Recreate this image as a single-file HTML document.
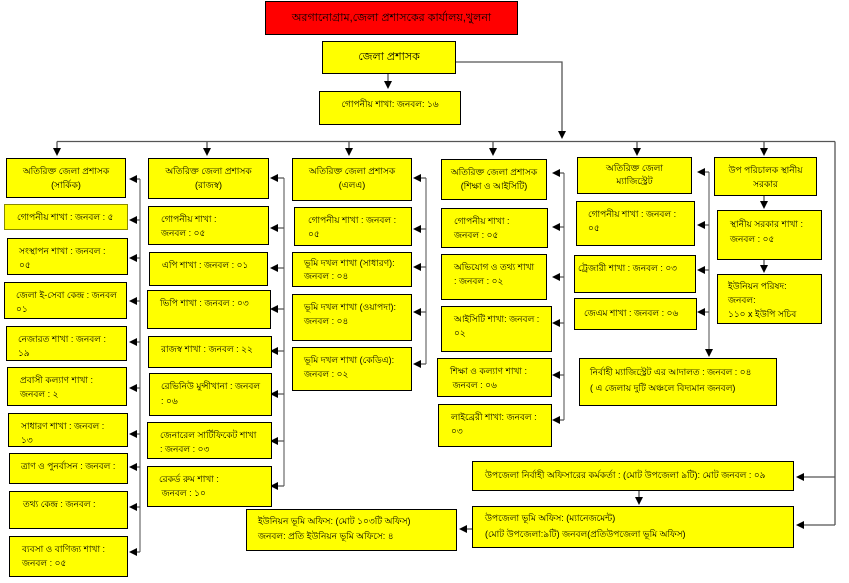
<!DOCTYPE html>
<html><head><meta charset="utf-8">
<style>
html,body{margin:0;padding:0;background:#fff;}
body{width:849px;height:583px;position:relative;overflow:hidden;font-family:"Liberation Sans",sans-serif;}
.b{position:absolute;box-sizing:border-box;background:#ffff00;border:1px solid #000;font-size:9px;line-height:14px;color:#000;white-space:nowrap;overflow:hidden;padding:5px 0 0 11px;}
.c{text-align:center;padding-left:0;}
svg{position:absolute;left:0;top:0;}
</style></head><body>

<svg width="849" height="583" viewBox="0 0 849 583">
<g stroke="#555" stroke-width="1.3" fill="none">
<!-- top connectors -->
<line x1="388" y1="74" x2="388" y2="82"/>
<polyline points="456,62 562,62 562,131"/>
<line x1="57" y1="141.5" x2="835" y2="141.5"/>
<line x1="835" y1="141.5" x2="835" y2="525"/>
<line x1="57" y1="141.5" x2="57" y2="149"/>
<line x1="207" y1="141.5" x2="207" y2="149"/>
<line x1="349" y1="141.5" x2="349" y2="149"/>
<line x1="493" y1="141.5" x2="493" y2="149"/>
<line x1="637" y1="141.5" x2="637" y2="149"/>
<line x1="764" y1="141.5" x2="764" y2="149"/>
<!-- vertical brackets -->
<line x1="140" y1="179" x2="140" y2="552" stroke="#777"/>
<line x1="284" y1="178" x2="284" y2="486" stroke="#777"/>
<line x1="426" y1="178" x2="426" y2="364" stroke="#777"/>
<line x1="564" y1="173" x2="564" y2="420" stroke="#777"/>
<line x1="709" y1="172" x2="709" y2="350" stroke="#777"/>
<!-- stubs col1 -->
<path d="M137 179H140M137 220H140M137 258H140M137 301H140M137 342H140M137 388H140M137 434H140M137 467H140M137 507H140M137 552H140"/>
<path d="M278 178H284M278 228H284M278 268H284M278 309H284M278 351H284M278 394H284M278 441H284M278 486H284"/>
<path d="M421 178H426M421 229H426M421 267H426M421 312H426M421 364H426"/>
<path d="M560 173H564M560 227H564M560 277H564M560 323H564M560 375H564M560 420H564"/>
<path d="M705 172H709M705 225H709M705 270H709M705 312H709"/>
<path d="M804 477H835M804 525H835"/>
<path d="M467 529H472"/>
<path d="M764 196V202M764 260V266M639 491V498"/>
</g>
<g fill="#000">
<!-- down arrows -->
<polygon points="388,89 384,81 392,81"/>
<polygon points="562,139 558,131 566,131"/>
<polygon points="57,156 53,148 61,148"/>
<polygon points="207,156 203,148 211,148"/>
<polygon points="349,156 345,148 353,148"/>
<polygon points="493,156 489,148 497,148"/>
<polygon points="637,156 633,148 641,148"/>
<polygon points="764,156 760,148 768,148"/>
<polygon points="709,357 705,349 713,349"/>
<polygon points="764,209 760,201 768,201"/>
<polygon points="764,273 760,265 768,265"/>
<polygon points="639,505 635,497 643,497"/>
<!-- left arrows col1 -->
<polygon points="129,179 137,175 137,183"/>
<polygon points="129,220 137,216 137,224"/>
<polygon points="129,258 137,254 137,262"/>
<polygon points="129,301 137,297 137,305"/>
<polygon points="129,342 137,338 137,346"/>
<polygon points="129,388 137,384 137,392"/>
<polygon points="129,434 137,430 137,438"/>
<polygon points="129,467 137,463 137,471"/>
<polygon points="129,507 137,503 137,511"/>
<polygon points="129,552 137,548 137,556"/>
<!-- col2 -->
<polygon points="270,178 278,174 278,182"/>
<polygon points="270,228 278,224 278,232"/>
<polygon points="270,268 278,264 278,272"/>
<polygon points="270,309 278,305 278,313"/>
<polygon points="270,351 278,347 278,355"/>
<polygon points="270,394 278,390 278,398"/>
<polygon points="270,441 278,437 278,445"/>
<polygon points="270,486 278,482 278,490"/>
<!-- col3 -->
<polygon points="413,178 421,174 421,182"/>
<polygon points="413,229 421,225 421,233"/>
<polygon points="413,267 421,263 421,271"/>
<polygon points="413,312 421,308 421,316"/>
<polygon points="413,364 421,360 421,368"/>
<!-- col4 -->
<polygon points="552,173 560,169 560,177"/>
<polygon points="552,227 560,223 560,231"/>
<polygon points="552,277 560,273 560,281"/>
<polygon points="552,323 560,319 560,327"/>
<polygon points="552,375 560,371 560,379"/>
<polygon points="552,420 560,416 560,424"/>
<!-- col5 -->
<polygon points="697,172 705,168 705,176"/>
<polygon points="697,225 705,221 705,229"/>
<polygon points="697,270 705,266 705,274"/>
<polygon points="697,312 705,308 705,316"/>
<!-- bottom -->
<polygon points="796,477 804,473 804,481"/>
<polygon points="796,525 804,521 804,529"/>
<polygon points="459,529 467,525 467,533"/>
</g>
</svg>

<!-- top -->
<div class="b c" style="left:265px;top:1px;width:253px;height:34px;background:#ff0000;font-size:11px;line-height:32px;padding-top:0;">অরগানোগ্রাম,জেলা প্রশাসকের কার্যালয়,খুলনা</div>
<div class="b c" style="left:322px;top:41px;width:134px;height:33px;font-size:11px;line-height:31px;padding-top:0;">জেলা প্রশাসক</div>
<div class="b c" style="left:319px;top:91px;width:142px;height:34px;padding-top:5px;">গোপনীয় শাখা: জনবল: ১৬</div>

<!-- col1 -->
<div class="b c" style="left:6px;top:158px;width:120px;height:40px;">অতিরিক্ত জেলা প্রশাসক<br>(সার্কিক)</div>
<div class="b" style="left:4px;top:204px;width:124px;height:26px;border-color:#8a8a00;padding-left:12px;">গোপনীয় শাখা : জনবল : ৫</div>
<div class="b" style="left:7px;top:238px;width:121px;height:37px;">সংস্থাপন শাখা : জনবল :<br>০৫</div>
<div class="b" style="left:4px;top:282px;width:123px;height:37px;">জেলা ই-সেবা কেন্দ্র : জনবল<br>০১</div>
<div class="b" style="left:6px;top:326px;width:121px;height:35px;">নেজারত শাখা : জনবল :<br>১৯</div>
<div class="b" style="left:7px;top:367px;width:120px;height:39px;padding-left:12px;">প্রবাসী কল্যাণ শাখা :<br>জনবল : ২</div>
<div class="b" style="left:8px;top:413px;width:120px;height:34px;padding-left:12px;">সাধারণ শাখা : জনবল :<br>১৩</div>
<div class="b" style="left:9px;top:453px;width:119px;height:31px;">ত্রাণ ও পুনর্বাসন  : জনবল :</div>
<div class="b" style="left:9px;top:491px;width:119px;height:38px;padding-left:13px;">তথ্য কেন্দ্র  : জনবল :</div>
<div class="b" style="left:9px;top:536px;width:119px;height:41px;padding-left:12px;">ব্যবসা ও বাণিজ্য শাখা  :<br>জনবল : ০৫</div>

<!-- col2 -->
<div class="b c" style="left:148px;top:158px;width:121px;height:41px;">অতিরিক্ত জেলা প্রশাসক<br>(রাজস্ব)</div>
<div class="b" style="left:148px;top:206px;width:121px;height:39px;padding-left:12px;">গোপনীয় শাখা :<br>জনবল : ০৫</div>
<div class="b" style="left:149px;top:252px;width:119px;height:34px;padding-left:12px;">এপি শাখা : জনবল : ০১</div>
<div class="b" style="left:147px;top:290px;width:124px;height:39px;padding-left:12px;">ভিপি শাখা : জনবল : ০৩</div>
<div class="b" style="left:148px;top:336px;width:124px;height:32px;padding-left:12px;">রাজস্ব শাখা : জনবল : ২২</div>
<div class="b" style="left:149px;top:373px;width:123px;height:43px;padding-left:11px;line-height:15px;">রেভিনিউ মুন্সীখানা : জনবল<br>: ০৬</div>
<div class="b" style="left:147px;top:422px;width:125px;height:37px;padding-left:12px;">জেনারেল সার্টিফিকেট শাখা<br>: জনবল : ০৩</div>
<div class="b" style="left:147px;top:466px;width:125px;height:41px;padding-left:11px;">রেকর্ড রুম শাখা :<br>&nbsp;জনবল : ১০</div>

<!-- col3 -->
<div class="b c" style="left:292px;top:158px;width:120px;height:43px;">অতিরিক্ত জেলা প্রশাসক<br>(এলএ)</div>
<div class="b" style="left:294px;top:207px;width:118px;height:39px;padding-left:13px;">গোপনীয় শাখা : জনবল :<br>০৫</div>
<div class="b" style="left:292px;top:252px;width:120px;height:35px;padding-top:4px;line-height:13px;">ভূমি দখল শাখা (সাধারণ):<br>জনবল : ০৪</div>
<div class="b" style="left:292px;top:294px;width:120px;height:47px;">ভূমি দখল শাখা (ওয়াপদা):<br>জনবল : ০৪</div>
<div class="b" style="left:292px;top:347px;width:120px;height:44px;">ভূমি দখল শাখা (কেডিএ):<br>জনবল : ০২</div>

<!-- col4 -->
<div class="b c" style="left:441px;top:159px;width:106px;height:41px;">অতিরিক্ত জেলা প্রশাসক<br>(শিক্ষা ও আইসিটি)</div>
<div class="b" style="left:441px;top:208px;width:107px;height:40px;padding-left:12px;">গোপনীয় শাখা :<br>জনবল : ০৫</div>
<div class="b" style="left:441px;top:254px;width:106px;height:46px;padding-left:12px;">অভিযোগ ও তথ্য  শাখা<br>: জনবল : ০২</div>
<div class="b" style="left:441px;top:306px;width:111px;height:46px;padding-left:12px;">আইসিটি শাখা: জনবল :<br>০২</div>
<div class="b" style="left:437px;top:358px;width:115px;height:39px;padding-left:12px;">শিক্ষা ও কল্যাণ শাখা :<br>&nbsp;জনবল : ০৬</div>
<div class="b" style="left:438px;top:404px;width:114px;height:43px;padding-left:12px;">লাইব্রেরী শাখা: জনবল :<br>০৩</div>

<!-- col5 -->
<div class="b c" style="left:577px;top:157px;width:115px;height:37px;padding-top:4px;line-height:13px;">অতিরিক্ত জেলা<br>ম্যাজিস্ট্রেট</div>
<div class="b" style="left:576px;top:201px;width:119px;height:45px;">গোপনীয় শাখা : জনবল :<br>০৫</div>
<div class="b" style="left:574px;top:255px;width:122px;height:38px;padding-left:3px;">ট্রেজারী শাখা : জনবল : ০৩</div>
<div class="b" style="left:574px;top:298px;width:123px;height:32px;padding-left:9px;padding-top:7px;">জেএম শাখা : জনবল : ০৬</div>
<div class="b" style="left:579px;top:358px;width:198px;height:48px;padding-left:10px;line-height:16px;padding-top:5px;">নির্বাহী ম্যাজিস্ট্রেট এর আদালত : জনবল :  ০৪<br>( এ জেলায় দুটি অঞ্চলে বিদ্যমান জনবল)</div>

<!-- col6 -->
<div class="b c" style="left:714px;top:157px;width:103px;height:39px;padding-top:5px;">উপ পরিচালক স্থানীয়<br>সরকার</div>
<div class="b" style="left:717px;top:210px;width:105px;height:50px;padding-left:12px;line-height:15px;padding-top:6px;">স্থানীয় সরকার শাখা :<br>জনবল : ০৫</div>
<div class="b" style="left:717px;top:274px;width:105px;height:50px;padding-left:10px;padding-top:4px;">ইউনিয়ন পরিষদ:<br>জনবল:<br>১১০ x ইউপি সচিব</div>

<!-- bottom -->
<div class="b" style="left:472px;top:461px;width:322px;height:30px;padding-left:12px;padding-top:6px;">উপজেলা নির্বাহী  অফিসারের কর্মকর্তা : (মোট উপজেলা ৯টি): মোট জনবল : ০৯</div>
<div class="b" style="left:472px;top:506px;width:322px;height:42px;padding-left:12px;padding-top:3px;line-height:16px;">উপজেলা ভূমি অফিস: (ম্যানেজমেন্ট)<br>(মোট উপজেলা:৯টি) জনবল(প্রতিউপজেলা ভূমি অফিস)</div>
<div class="b" style="left:246px;top:509px;width:211px;height:42px;padding-left:11px;padding-top:4px;line-height:15px;">ইউনিয়ন ভূমি অফিস: (মোট ১০৩টি অফিস)<br>জনবল: প্রতি ইউনিয়ন ভূমি অফিসে: ৪</div>

</body></html>
